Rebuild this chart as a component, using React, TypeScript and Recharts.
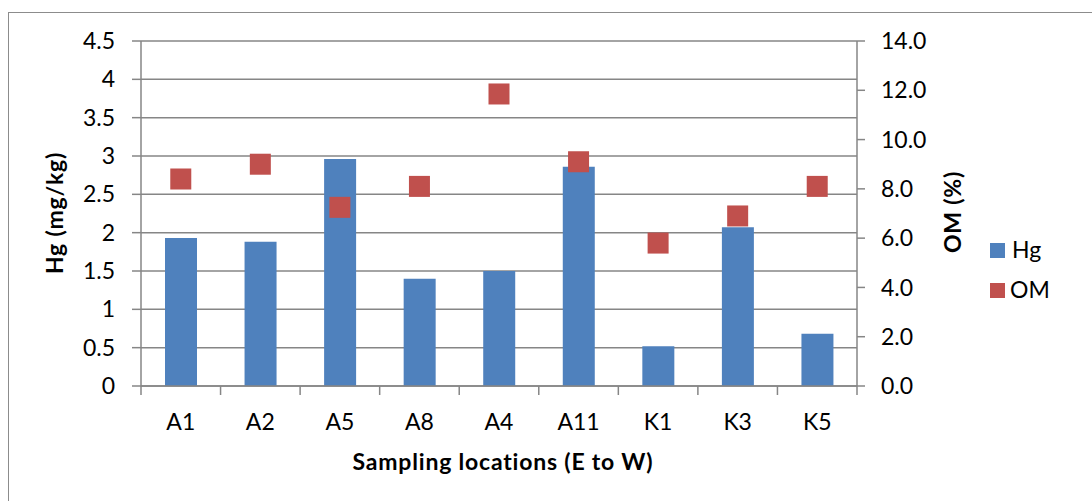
import React from 'react';
import {
  ComposedChart,
  Bar,
  Scatter,
  XAxis,
  YAxis,
  CartesianGrid,
  Legend,
  Label,
} from 'recharts';

const categories = ['A1', 'A2', 'A5', 'A8', 'A4', 'A11', 'K1', 'K3', 'K5'];
const hgValues = [1.93, 1.88, 2.96, 1.4, 1.5, 2.86, 0.52, 2.07, 0.68];
const omValues = [8.4, 9.0, 7.25, 8.1, 11.85, 9.1, 5.8, 6.9, 8.1];
const leftTicks = [0, 0.5, 1, 1.5, 2, 2.5, 3, 3.5, 4, 4.5];
const rightTicks = [0, 2, 4, 6, 8, 10, 12, 14];

const data = categories.map((name, i) => ({ name, hg: hgValues[i], om: omValues[i] }));

const FONT = "Lato, Carlito, 'Open Sans', sans-serif";
const GRID = '#868686';
const BLUE = '#4F81BD';
const RED = '#C0504D';
const TICK_FS = 23;
const TITLE_FS = 23;

const CHART_W = 1080;
const CHART_H = 480;
const PLOT_LEFT = 132;
const PLOT_RIGHT = 848;
const PLOT_BOTTOM = 373;
const BAND = (PLOT_RIGHT - PLOT_LEFT) / categories.length;

const XTick = (props: any) => {
  const { x, payload, index } = props;
  const cx = payload && typeof payload.coordinate === 'number' ? payload.coordinate : x;
  return (
    <g>
      <line x1={cx - BAND / 2} x2={cx - BAND / 2} y1={PLOT_BOTTOM} y2={PLOT_BOTTOM + 9} stroke={GRID} strokeWidth={1.5} />
      {index === categories.length - 1 && (
        <line x1={cx + BAND / 2} x2={cx + BAND / 2} y1={PLOT_BOTTOM} y2={PLOT_BOTTOM + 9} stroke={GRID} strokeWidth={1.5} />
      )}
      <text x={cx} y={417} textAnchor="middle" fontFamily={FONT} fontSize={TICK_FS} fill="#000">
        {payload.value}
      </text>
    </g>
  );
};

const SquareShape = (props: any) => {
  const { cx, cy } = props;
  if (typeof cx !== 'number' || typeof cy !== 'number') return null;
  return <rect x={cx - 10.5} y={cy - 10.5} width={21} height={21} fill={RED} />;
};

const LegendContent = () => (
  <svg width={110} height={60} style={{ overflow: 'visible' }}>
    <rect x={0} y={0} width={15} height={15} fill={BLUE} />
    <text x={22} y={15} fontFamily={FONT} fontSize={TICK_FS} fill="#000">Hg</text>
    <rect x={0} y={40} width={15} height={15} fill={RED} />
    <text x={20} y={55} fontFamily={FONT} fontSize={TICK_FS} fill="#000">OM</text>
  </svg>
);

const titleProps = {
  fontFamily: FONT,
  fontWeight: 700,
  fontSize: TITLE_FS,
  letterSpacing: 0.8,
  fill: '#000',
  textAnchor: 'middle' as const,
};

export default function App() {
  return (
    <div style={{ position: 'fixed', left: 0, top: 0, width: 1092, height: 501, overflow: 'hidden', background: '#fff' }}>
      <div
        style={{
          position: 'absolute',
          left: 8,
          top: 12,
          width: 1100,
          height: 500,
          borderTop: '1px solid #8c8c8c',
          borderLeft: '1px solid #8c8c8c',
          boxSizing: 'border-box',
        }}
      >
        <ComposedChart
          width={CHART_W}
          height={CHART_H}
          data={data}
          margin={{ top: 28, right: 0, bottom: 0, left: 0 }}
          barCategoryGap="30%"
        >
          <CartesianGrid yAxisId="left" vertical={false} stroke={GRID} strokeWidth={1.5} />
          <XAxis
            dataKey="name"
            height={107}
            axisLine={{ stroke: GRID, strokeWidth: 1.5 }}
            tickLine={false}
            tick={<XTick />}
            interval={0}
          >
            <Label
              content={() => (
                <text x={494} y={457} {...titleProps}>
                  Sampling locations (E to W)
                </text>
              )}
            />
          </XAxis>
          <YAxis
            yAxisId="left"
            width={PLOT_LEFT}
            domain={[0, 4.5]}
            ticks={leftTicks}
            interval={0}
            tickSize={9}
            tickMargin={17}
            axisLine={{ stroke: GRID, strokeWidth: 1.5 }}
            tickLine={{ stroke: GRID, strokeWidth: 1.5 }}
            tick={{ fontFamily: FONT, fontSize: TICK_FS, fill: '#000' }}
          >
            <Label
              content={() => (
                <text x={54} y={200} transform="rotate(-90 54 200)" {...titleProps}>
                  Hg (mg/kg)
                </text>
              )}
            />
          </YAxis>
          <YAxis
            yAxisId="right"
            orientation="right"
            width={CHART_W - PLOT_RIGHT}
            domain={[0, 14]}
            ticks={rightTicks}
            interval={0}
            tickSize={8}
            tickMargin={16}
            tickFormatter={(v: number) => v.toFixed(1)}
            axisLine={{ stroke: GRID, strokeWidth: 1.5 }}
            tickLine={{ stroke: GRID, strokeWidth: 1.5 }}
            tick={{ fontFamily: FONT, fontSize: TICK_FS, fill: '#000', textAnchor: 'start' }}
          >
            <Label
              content={() => (
                <text x={952} y={199} transform="rotate(-90 952 199)" {...titleProps}>
                  OM (%)
                </text>
              )}
            />
          </YAxis>
          <Bar yAxisId="left" dataKey="hg" name="Hg" fill={BLUE} barSize={32} isAnimationActive={false} />
          <Scatter yAxisId="right" dataKey="om" name="OM" fill={RED} shape={<SquareShape />} isAnimationActive={false} />
          <Legend
            layout="vertical"
            align="center"
            verticalAlign="middle"
            content={<LegendContent />}
            wrapperStyle={{ position: 'absolute', left: 981, top: 230, width: 110, height: 60 }}
          />
        </ComposedChart>
      </div>
    </div>
  );
}
